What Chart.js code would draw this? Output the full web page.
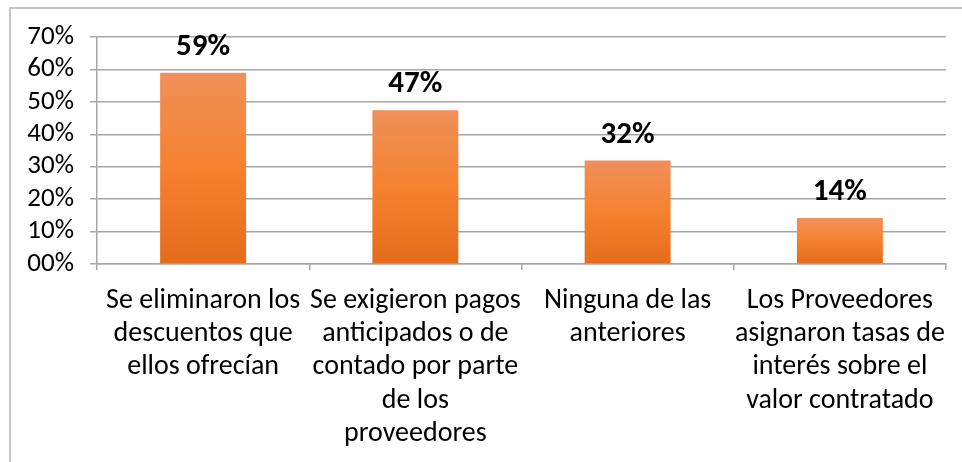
<!DOCTYPE html>
<html>
<head>
<meta charset="utf-8">
<script src="https://cdn.jsdelivr.net/npm/chart.js@4"></script>
<style>
  body { margin: 0; background: #fff; }
  canvas { display: block; }
</style>
</head>
<body>
<canvas id="chart" width="962" height="462"></canvas>
<script>
// Catégories (une ligne par élément du tableau)
const categories = [
    ['Se eliminaron los', 'descuentos que', 'ellos ofrecían'],
    ['Se exigieron pagos', 'anticipados o de', 'contado por parte', 'de los', 'proveedores'],
    ['Ninguna de las', 'anteriores'],
    ['Los Proveedores', 'asignaron tasas de', 'interés sobre el', 'valor contratado'],
];

// Valeurs en pourcentage
const values = [59, 47.4, 31.9, 14.2];

// Étiquettes de l'axe y
const yTickLabels = ['00%', '10%', '20%', '30%', '40%', '50%', '60%', '70%'];

const fontFamily = "Carlito, Calibri, Lato, sans-serif";
const gridColor = '#a6a6a6';

// Dégradé orange pour chaque barre
const barGradient = (context) => {
    const chart = context.chart;
    const y = chart.scales.y;
    if (!y || context.type !== 'data') {
        return '#f5822f';
    }
    const top = y.getPixelForValue(values[context.dataIndex]);
    const bottom = y.getPixelForValue(0);
    if (!isFinite(top) || !isFinite(bottom)) {
        return '#f5822f';
    }
    const g = chart.ctx.createLinearGradient(0, top, 0, bottom);
    g.addColorStop(0, '#f0905a');
    g.addColorStop(0.5, '#f5822f');
    g.addColorStop(1, '#e46c1a');
    return g;
};

// Cadre gris autour du graphique
const framePlugin = {
    id: 'frame',
    beforeDraw: (chart) => {
        const ctx = chart.ctx;
        ctx.save();
        ctx.fillStyle = '#fff';
        ctx.fillRect(0, 0, chart.width, chart.height);
        ctx.strokeStyle = '#c4c4c4';
        ctx.lineWidth = 2;
        ctx.strokeRect(10, 8, 1100, 1000);
        ctx.restore();
    },
};

// Étiquettes des valeurs au-dessus des barres
const valueLabelsPlugin = {
    id: 'valueLabels',
    afterDatasetsDraw: (chart) => {
        const ctx = chart.ctx;
        const meta = chart.getDatasetMeta(0);
        ctx.save();
        ctx.font = `bold 31px ${fontFamily}`;
        ctx.fillStyle = '#000';
        ctx.textAlign = 'center';
        ctx.textBaseline = 'alphabetic';
        meta.data.forEach((bar, i) => {
            ctx.fillText(Math.round(values[i]) + '%', bar.x, bar.y - 18);
        });
        ctx.restore();
    },
};

const ctx = document.getElementById('chart').getContext('2d');
new Chart(ctx, {
    type: 'bar',
    data: {
        labels: categories,
        datasets: [{
            data: values,
            backgroundColor: barGradient,
            borderWidth: 0,
            categoryPercentage: 1,
            barPercentage: 0.405,
        }],
    },
    options: {
        responsive: false,
        animation: false,
        layout: {
            padding: { top: 37, right: 16, left: 0, bottom: 0 },
        },
        plugins: {
            legend: { display: false },
            tooltip: { enabled: false },
        },
        scales: {
            y: {
                min: 0,
                max: 70,
                ticks: {
                    stepSize: 10,
                    autoSkip: false,
                    callback: (value, index) => yTickLabels[index],
                    color: '#000',
                    font: { family: fontFamily, size: 27 },
                    padding: 16,
                },
                grid: {
                    color: gridColor,
                    lineWidth: 1.5,
                    tickLength: 7,
                },
                border: { color: gridColor, width: 1.5 },
                afterFit: (scale) => { scale.width = 97; },
            },
            x: {
                grid: {
                    offset: true,
                    drawOnChartArea: false,
                    color: gridColor,
                    lineWidth: 1.5,
                    tickLength: 6,
                },
                border: { color: gridColor, width: 1.5 },
                ticks: {
                    color: '#000',
                    autoSkip: false,
                    maxRotation: 0,
                    font: { family: fontFamily, size: 28, lineHeight: 1.19 },
                    padding: 14,
                },
                afterFit: (scale) => { scale.height = 198; },
            },
        },
    },
    plugins: [framePlugin, valueLabelsPlugin],
});
</script>
</body>
</html>
